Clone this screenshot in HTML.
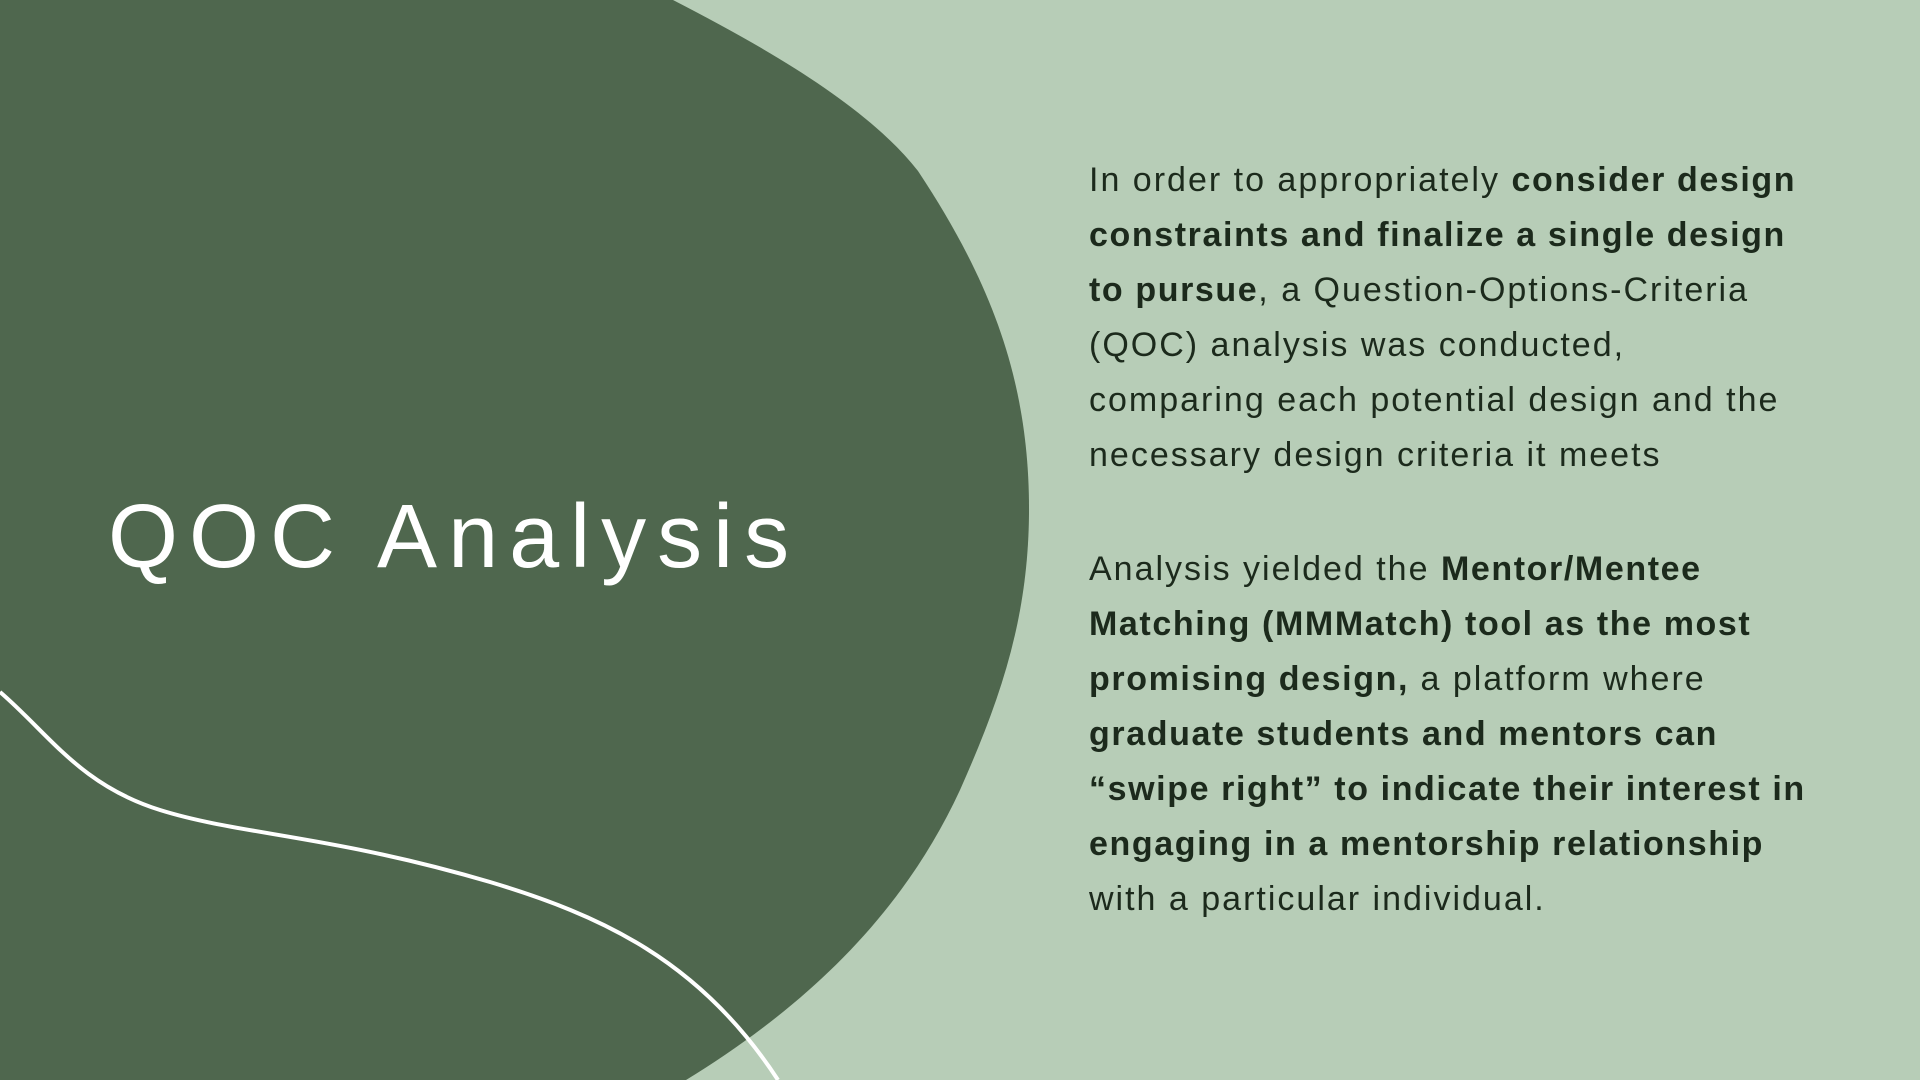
<!DOCTYPE html>
<html><head><meta charset="utf-8"><style>
html,body{margin:0;padding:0;width:1920px;height:1080px;overflow:hidden;background:#b7cdb7;}
#blob{position:absolute;left:0;top:0;}
.title{position:absolute;left:108px;top:492px;font-family:"Liberation Sans",sans-serif;font-size:90px;color:#fff;letter-spacing:11px;white-space:nowrap;line-height:1;}
.para{position:absolute;left:1089px;font-family:"Liberation Sans",sans-serif;font-size:34px;letter-spacing:2px;line-height:55px;color:#1c2a1c;white-space:nowrap;}
.para b{font-weight:bold;letter-spacing:1.6px;}
</style></head><body>
<svg id="blob" width="1920" height="1080">
<path fill="#4f674e" d="M0,0 L673,0 C780,55 870,110 918,171 C990,280 1030,380 1029,514 C1028,620 1000,700 960,790 C900,920 800,1010 686,1080 L0,1080 Z"/>
<path fill="none" stroke="#fff" stroke-width="4" d="M0,692 C50,735 80,785 160,810 C240,835 330,835 490,882 C600,915 700,960 778,1080"/>
</svg>
<div class="title">QOC Analysis</div>
<div class="para" style="top:153px">
In order to appropriately <b>consider design</b><br>
<b>constraints and finalize a single design</b><br>
<b>to pursue</b>, a Question-Options-Criteria<br>
(QOC) analysis was conducted,<br>
comparing each potential design and the<br>
necessary design criteria it meets
</div>
<div class="para" style="top:542px">
Analysis yielded the <b>Mentor/Mentee</b><br>
<b>Matching (MMMatch) tool as the most</b><br>
<b>promising design,</b> a platform where<br>
<b>graduate students and mentors can</b><br>
<b>“swipe right” to indicate their interest in</b><br>
<b>engaging in a mentorship relationship</b><br>
with a particular individual.
</div>
</body></html>
